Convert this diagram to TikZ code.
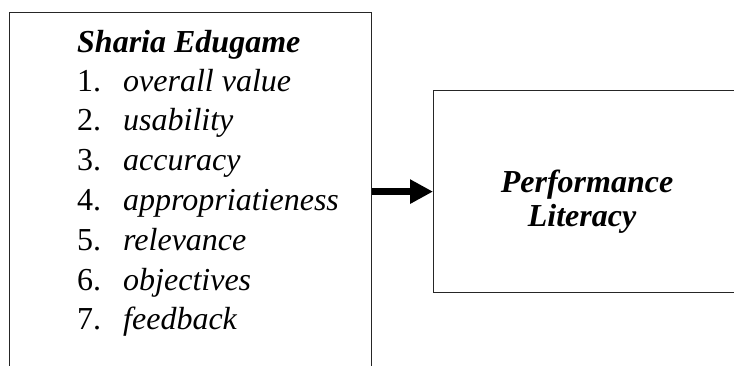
\documentclass[tikz,border=0pt]{standalone}
\usepackage{fontspec}
\setmainfont{Liberation Serif}
\usetikzlibrary{arrows.meta}
\tikzset{
  boxline/.style={draw=black!85, line width=1.2pt},
  titletext/.style={font=\fontsize{32}{38}\selectfont\bfseries\itshape, inner sep=0pt, anchor=base west},
  numtext/.style={font=\fontsize{32}{38}\selectfont, inner sep=0pt, anchor=base west},
  itemtext/.style={font=\fontsize{32}{38}\selectfont\itshape, inner sep=0pt, anchor=base west},
  perftext/.style={font=\fontsize{32}{34}\selectfont\bfseries\itshape, inner sep=0pt, anchor=base},
  bigarrow/.style={line width=7pt, -{Triangle[length=23pt,width=23pt]}}
}
\begin{document}
\begin{tikzpicture}[x=1pt,y=-1pt]
\clip (0,0) rectangle (734,365);
\fill[white] (0,0) rectangle (734,365);
% boxes
\node[boxline, rectangle, minimum width=362pt, minimum height=420pt, anchor=north west, inner sep=0pt] (left) at (9,12) {};
\node[boxline, rectangle, minimum width=306pt, minimum height=202pt, anchor=north west, inner sep=0pt] (right) at (433,90) {};
% left texts
\node[titletext] (title) at (77,52) {Sharia Edugame};
\foreach \i/\t in {1/overall value,2/usability,3/accuracy,4/appropriatieness,5/relevance,6/objectives,7/feedback}{
  \node[numtext] (n\i) at (77,{91+(\i-1)*39.8}) {\i.};
  \node[itemtext] (t\i) at (123,{91+(\i-1)*39.8}) {\t};
}
% right text
\node[perftext] (perf) at (587,192) {Performance};
\node[perftext] (lit) at (582,226) {Literacy};
% arrow
\draw[bigarrow] (left.east |- right.west) -- (right.west);
\end{tikzpicture}
\end{document}
